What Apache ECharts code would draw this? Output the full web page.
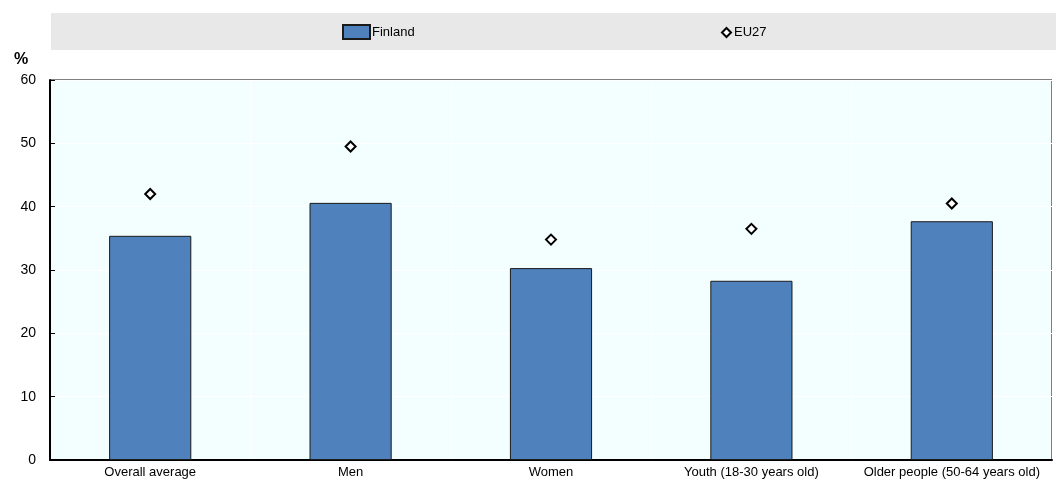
<!DOCTYPE html>
<html>
<head>
<meta charset="utf-8">
<script src="https://cdn.jsdelivr.net/npm/echarts@6/dist/echarts.min.js"></script>
<style>
  html, body { margin: 0; padding: 0; background: #fff; }
  #chart { width: 1056px; height: 483px; }
</style>
</head>
<body>
<div id="chart"></div>
<script>
// categories and values
var categories = ['Overall average', 'Men', 'Women', 'Youth (18-30 years old)', 'Older people (50-64 years old)'];
var finland = [35.4, 40.6, 30.3, 28.3, 37.7];
var eu27 = [42.0, 49.5, 34.8, 36.5, 40.5];
var yTicks = [0, 10, 20, 30, 40, 50, 60];

var font = '"Liberation Sans Narrow", "Arial Narrow", "Liberation Sans", Arial, sans-serif';

var chart = echarts.init(document.getElementById('chart'));

var option = {
    animation: false,
    textStyle: { fontFamily: font },
    graphic: [
        // grey legend band
        { type: 'rect', shape: { x: 51, y: 13, width: 1005, height: 37 }, style: { fill: '#e8e8e8' }, z: -1 },
        // unit label
        { type: 'text', left: 14, top: 52, style: { text: '%', font: 'bold 16px ' + font, fill: '#000' } }
    ],
    legend: [
        {
            data: ['Finland'], left: 337, top: 19, itemWidth: 27, itemHeight: 14, itemGap: 4,
            icon: 'rect',
            textStyle: { fontSize: 13, color: '#000', fontFamily: font, padding: [0, 0, 0, -3] }
        },
        {
            data: ['EU27'], left: 716, top: 21, itemWidth: 9, itemHeight: 9,
            textStyle: { fontSize: 13, color: '#000', fontFamily: font, padding: [0, 0, 0, -2] }
        }
    ],
    grid: {
        left: 50, right: 4, top: 80, bottom: 23,
        show: true, backgroundColor: '#f3ffff', borderColor: '#000', borderWidth: 1
    },
    xAxis: {
        type: 'category',
        data: categories,
        axisLine: { lineStyle: { color: '#000', width: 2 } },
        axisTick: { inside: true, length: 5, lineStyle: { color: '#000' } },
        splitLine: { show: true, lineStyle: { color: '#fff', width: 1 } },
        axisLabel: { color: '#000', fontSize: 13, margin: 6, interval: 0, fontFamily: font }
    },
    yAxis: {
        type: 'value',
        min: yTicks[0], max: yTicks[yTicks.length - 1], interval: 10,
        axisLine: { show: true, lineStyle: { color: '#000', width: 2 } },
        axisTick: { show: true, inside: true, length: 5, lineStyle: { color: '#000' } },
        splitLine: { lineStyle: { color: '#fff', width: 1 } },
        axisLabel: { color: '#000', fontSize: 14, margin: 14, fontFamily: font }
    },
    series: [
        {
            name: 'Finland',
            type: 'bar',
            data: finland,
            barWidth: '41%',
            itemStyle: { color: '#4f81bd', borderColor: '#1a1a1a', borderWidth: 1 }
        },
        {
            name: 'EU27',
            type: 'scatter',
            data: eu27,
            symbol: 'diamond',
            symbolSize: 10,
            itemStyle: { color: '#fff', borderColor: '#000', borderWidth: 2, opacity: 1 },
            z: 5
        }
    ]
};

chart.setOption(option);
</script>
</body>
</html>
